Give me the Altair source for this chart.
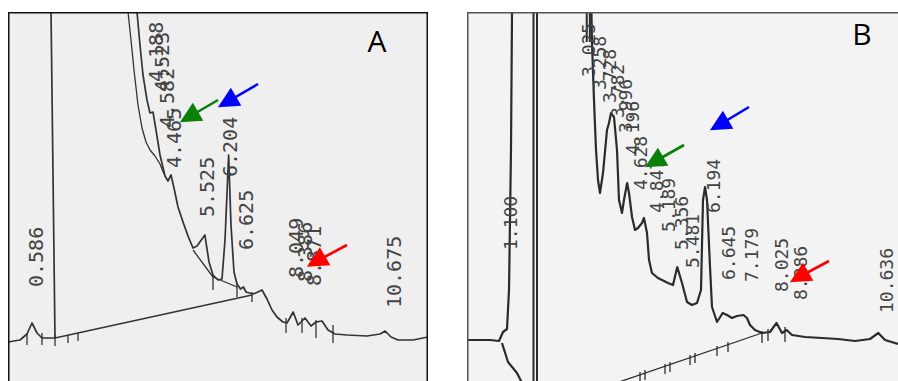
import altair as alt
import pandas as pd

# Signal axis (mV) shared by both chromatograms
SIG_DOMAIN = [-4.3, 32.6]

# ---------------- Chromatogram A ----------------
A_TIME_DOMAIN = [-0.1, 11.9]

A_MAIN_T = [-0.1, 0.243, 0.443, 0.586, 0.729, 0.871, 1.243, 1.129, 1.114, 3.586, 3.586, 3.671,
            3.757, 3.871, 3.957, 4.043, 4.129, 4.243, 4.386, 4.471, 4.557, 4.643, 4.757, 4.9,
            5.043, 5.186, 5.3, 5.525, 5.643, 5.757, 5.9, 6.014, 6.1, 6.204, 6.271, 6.357, 6.443,
            6.543, 6.625, 6.7, 6.9, 7.043, 7.157, 7.3, 7.443, 7.586, 7.757, 7.871, 8.049, 8.186,
            8.386, 8.557, 8.7, 8.871, 9.043, 9.243, 9.586, 10.157, 10.529, 10.675, 10.843,
            11.043, 11.471, 11.9]
A_MAIN_S = [-0.4, -0.2, 0.4, 1.5, 0.5, 0.0, 0.0, 32.6, 34.8, 34.8, 32.6, 29.3, 26.3, 23.8, 22.5,
            22.6, 20.8, 18.3, 16.2, 15.7, 16.3, 15.0, 13.1, 11.6, 10.2, 9.0, 9.2, 10.3, 7.6, 6.3,
            5.8, 5.9, 9.8, 18.3, 11.3, 6.6, 5.4, 4.9, 5.1, 4.6, 4.4, 4.6, 4.8, 3.9, 2.8, 2.1, 1.6,
            1.5, 2.6, 1.3, 2.0, 1.2, 1.6, 1.7, 0.8, 0.4, 0.3, 0.2, 0.4, 0.7, 0.1, -0.2, -0.2, 0.1]

# second pen pass on the solvent tail
A_GHOST_T = [3.329, 3.329, 3.414, 3.5, 3.614, 3.729, 3.843, 3.957, 4.1, 4.243, 4.357]
A_GHOST_S = [34.8, 32.6, 29.8, 26.8, 23.3, 21.0, 19.6, 18.8, 18.2, 17.4, 16.4]

# integration baselines
A_SKIM_T = [5.186, 5.757, 6.443]
A_SKIM_S = [8.8, 6.1, 5.1]
A_BASE_T = [1.243, 6.871]
A_BASE_S = [0.0, 4.3]

# peak start / end ticks
A_TICK_T = [0.443, 0.871, 1.243, 1.614, 1.9, 5.757, 6.443, 6.871, 7.843, 8.3, 8.7, 9.186]
A_TICK_TOP = [0.5, 0.5, 0.3, 0.3, 0.5, 6.3, 5.5, 4.6, 2.0, 2.0, 1.8, 1.3]
A_TICK_BOT = [-0.7, -0.7, -0.8, -0.5, -0.3, 4.8, 4.1, 3.6, 0.5, 0.5, 0.0, -0.5]

# retention-time printout
A_LABELS = ["0.586", "4.188", "4.523", "4.582", "4.465", "5.525", "6.204", "6.625",
            "8.049", "8.386", "8.871", "10.675"]
A_LABEL_T = [0.729, 4.157, 4.329, 4.471, 4.671, 5.614, 6.271, 6.729, 8.157, 8.414, 8.671, 10.957]
A_LABEL_S = [5.1, 25.6, 24.6, 21.0, 17.0, 12.1, 16.1, 8.8, 6.0, 5.6, 5.2, 3.0]

A_ARROW_HEAD_T = [5.071, 6.157, 8.7]
A_ARROW_HEAD_S = [22.1, 23.6, 7.65]
A_ARROW_TAIL_T = [5.9, 7.043, 9.586]
A_ARROW_TAIL_S = [23.8, 25.4, 9.3]

A_LETTER = ("A", 10.443, 29.5)

# ---------------- Chromatogram B ----------------
B_TIME_DOMAIN = [0.09, 11.141]

B_RISE_T = [0.09, 0.68, 0.911, 1.013, 1.116, 1.167, 1.218, 1.244, 1.257]
B_RISE_S = [-0.2, -0.2, -0.3, 0.6, 0.9, 4.8, 18.8, 32.6, 34.8]

B_DIP_T = [0.987, 1.141, 1.372, 1.526]
B_DIP_S = [-0.5, -2.4, -3.5, -4.7]

B_MAIN_T = [3.27, 3.295, 3.346, 3.398, 3.449, 3.5, 3.577, 3.68, 3.731, 3.782, 3.859, 3.936,
            3.987, 4.064, 4.115, 4.196, 4.244, 4.321, 4.398, 4.474, 4.577, 4.628, 4.705, 4.757,
            4.833, 4.987, 5.244, 5.372, 5.481, 5.603, 5.731, 5.859, 5.987, 6.09, 6.141, 6.194,
            6.244, 6.321, 6.372, 6.5, 6.645, 6.757, 6.885, 7.013, 7.179, 7.269, 7.346, 7.474,
            7.654, 7.859, 8.025, 8.167, 8.286, 8.423, 8.757, 9.192, 9.603, 10.039, 10.423,
            10.636, 10.808, 11.141]
B_MAIN_S = [34.8, 29.5, 23.8, 18.8, 15.8, 14.5, 16.5, 20.8, 21.5, 22.5, 22.1, 18.8, 13.8, 12.5,
            13.8, 15.5, 14.5, 12.1, 10.8, 11.0, 11.5, 12.0, 10.5, 7.8, 6.5, 6.0, 5.5, 5.3, 7.1,
            5.5, 3.6, 3.3, 3.5, 4.8, 13.8, 15.1, 13.8, 7.1, 3.1, 1.6, 2.5, 2.3, 2.0, 2.2, 2.3,
            2.0, 1.3, 0.8, 0.5, 0.6, 1.5, 0.5, 0.8, 0.3, 0.1, 0.0, -0.1, -0.3, -0.1, 0.5, -0.2,
            -0.6]

# off-scale pen strokes
B_OFFSCALE_T = [1.795, 1.885, 3.16, 3.24]
B_OFFSCALE_TOP = [34.8, 34.8, 34.8, 34.8]
B_OFFSCALE_BOT = [-5.2, -5.2, 29.6, 29.6]

B_BASE_T = [3.765, 7.654]
B_BASE_S = [-4.7, 0.5]

B_TICK_T = [4.526, 4.654, 5.167, 5.295, 5.808, 5.936, 6.5, 6.782, 7.654, 7.808, 8.244]
B_TICK_TOP = [-3.4, -3.2, -2.6, -2.4, -1.7, -1.5, -0.8, -0.4, 0.7, 0.9, 1.1]
B_TICK_BOT = [-4.4, -4.2, -3.6, -3.4, -2.7, -2.5, -1.8, -1.4, -0.5, -0.3, -0.4]

B_LABELS = ["1.100", "3.025", "3.258", "3.728", "3.782", "3.996", "4.196", "4.628", "4.847",
            "5.189", "5.356", "5.481", "6.194", "6.645", "7.179", "8.025", "8.286", "10.636"]
B_LABEL_T = [1.244, 3.244, 3.526, 3.782, 3.987, 4.192, 4.372, 4.577, 4.987, 5.295, 5.628, 5.91,
             6.449, 6.833, 7.423, 8.192, 8.68, 10.885]
B_LABEL_S = [8.8, 26.1, 24.8, 23.5, 22.0, 20.5, 18.3, 14.8, 12.5, 10.6, 8.8, 7.0, 12.5, 5.8,
             5.6, 4.6, 3.8, 2.5]

B_ARROW_HEAD_T = [4.885, 6.552, 8.603]
B_ARROW_HEAD_S = [17.6, 21.3, 6.1]
B_ARROW_TAIL_T = [5.654, 7.321, 9.372]
B_ARROW_TAIL_S = [19.3, 23.1, 7.7]

B_LETTER = ("B", 10.218, 30.2)

ARROW_COLORS = ["#0a7f0a", "#0000ff", "#ff0000"]
ARROW_HEAD = "M0,-1L1,1L-1,1Z"
PANEL_HEIGHT = 369


def lines_frame(pieces):
    rows = []
    for seg, (ts, ss) in enumerate(pieces):
        for i, (t, s) in enumerate(zip(ts, ss)):
            rows.append({"t": t, "s": s, "seg": seg, "i": i})
    return pd.DataFrame(rows)


def build_panel(time_domain, width, traces, trace_width, trace_color, thin, offscale,
                ticks, labels, label_size, arrows, letter, paper, frame_color, right_edge):
    xs = alt.Scale(domain=time_domain, nice=False, zero=False)
    ys = alt.Scale(domain=SIG_DOMAIN, nice=False, zero=False)

    def X(f):
        return alt.X(f, type="quantitative", scale=xs, axis=None)

    def Y(f):
        return alt.Y(f, type="quantitative", scale=ys, axis=None)

    t0, t1 = time_domain
    s0, s1 = SIG_DOMAIN
    edges = [(t0, t1, s1, s1), (t0, t0, s0, s1)]
    if right_edge:
        edges.append((t1, t1, s0, s1))
    frame = pd.DataFrame(edges, columns=["xa", "xb", "ya", "yb"])

    layers = [
        alt.Chart(lines_frame(traces)).mark_line(
            clip=True, color=trace_color, strokeWidth=trace_width, strokeJoin="round"
        ).encode(x=X("t"), y=Y("s"), detail="seg:N", order="i:Q"),
        alt.Chart(lines_frame(thin)).mark_line(
            clip=True, color=trace_color, strokeWidth=1.3, strokeJoin="round"
        ).encode(x=X("t"), y=Y("s"), detail="seg:N", order="i:Q"),
    ]
    if offscale is not None:
        layers.append(
            alt.Chart(pd.DataFrame(offscale)).mark_rule(
                clip=True, color=trace_color, strokeWidth=2.0
            ).encode(x=X("t"), y=Y("top"), y2="bot")
        )
    layers += [
        alt.Chart(pd.DataFrame(ticks)).mark_rule(
            clip=True, color=trace_color, strokeWidth=1.3
        ).encode(x=X("t"), y=Y("top"), y2="bot"),
        alt.Chart(pd.DataFrame(labels)).mark_text(
            clip=True, angle=270, align="left", baseline="middle",
            font="DejaVu Sans Mono", fontSize=label_size, color="#444444"
        ).encode(x=X("t"), y=Y("s"), text="label:N"),
        alt.Chart(pd.DataFrame(arrows)).mark_rule(clip=True, strokeWidth=2.6).encode(
            x=X("ht"), y=Y("hs"), x2="tt", y2="ts", color=alt.Color("c:N", scale=None)
        ),
        alt.Chart(pd.DataFrame(arrows)).mark_point(
            clip=True, shape=ARROW_HEAD, angle=240, filled=True, size=441, opacity=1
        ).encode(x=X("ht"), y=Y("hs"), color=alt.Color("c:N", scale=None)),
        alt.Chart(pd.DataFrame([{"txt": letter[0], "t": letter[1], "s": letter[2]}])).mark_text(
            font="Open Sans", fontSize=30, color="#000000", align="center", baseline="middle"
        ).encode(x=X("t"), y=Y("s"), text="txt:N"),
        alt.Chart(frame).mark_rule(clip=True, color=frame_color, strokeWidth=3).encode(
            x=X("xa"), x2="xb", y=Y("ya"), y2="yb"
        ),
    ]
    return alt.layer(*layers).properties(
        width=width, height=PANEL_HEIGHT,
        view=alt.ViewBackground(fill=paper, stroke=None),
    )


def arrows_of(ht, hs, tt, ts):
    return {"ht": ht, "hs": hs, "tt": tt, "ts": ts, "c": ARROW_COLORS}


panel_a = build_panel(
    A_TIME_DOMAIN, 420,
    traces=[(A_MAIN_T, A_MAIN_S)], trace_width=1.7, trace_color="#333333",
    thin=[(A_GHOST_T, A_GHOST_S), (A_SKIM_T, A_SKIM_S), (A_BASE_T, A_BASE_S)],
    offscale=None,
    ticks={"t": A_TICK_T, "top": A_TICK_TOP, "bot": A_TICK_BOT},
    labels={"label": A_LABELS, "t": A_LABEL_T, "s": A_LABEL_S}, label_size=20,
    arrows=arrows_of(A_ARROW_HEAD_T, A_ARROW_HEAD_S, A_ARROW_TAIL_T, A_ARROW_TAIL_S),
    letter=A_LETTER, paper="#efefef", frame_color="#111111", right_edge=True,
)

panel_b = build_panel(
    B_TIME_DOMAIN, 431,
    traces=[(B_RISE_T, B_RISE_S), (B_DIP_T, B_DIP_S), (B_MAIN_T, B_MAIN_S)],
    trace_width=2.2, trace_color="#2b2b2b",
    thin=[(B_BASE_T, B_BASE_S)],
    offscale={"t": B_OFFSCALE_T, "top": B_OFFSCALE_TOP, "bot": B_OFFSCALE_BOT},
    ticks={"t": B_TICK_T, "top": B_TICK_TOP, "bot": B_TICK_BOT},
    labels={"label": B_LABELS, "t": B_LABEL_T, "s": B_LABEL_S}, label_size=18,
    arrows=arrows_of(B_ARROW_HEAD_T, B_ARROW_HEAD_S, B_ARROW_TAIL_T, B_ARROW_TAIL_S),
    letter=B_LETTER, paper="#f3f3f3", frame_color="#555555", right_edge=False,
)

chart = alt.hconcat(panel_a, panel_b, spacing=39).properties(
    padding={"left": 8, "top": 12, "right": 0, "bottom": 0},
    background="#ffffff",
).configure_view(stroke=None)

chart.save("out.html", embed_options={"renderer": "svg", "actions": False})
